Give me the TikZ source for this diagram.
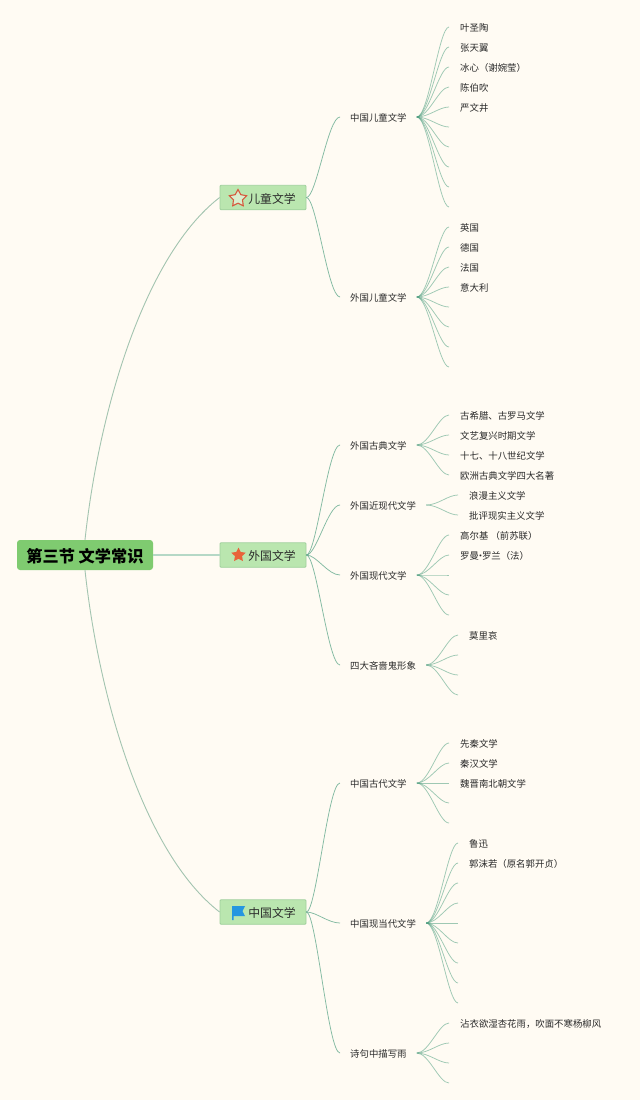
\documentclass[tikz,border=0pt]{standalone}
\usepackage{fontspec}
\setmainfont{Noto Sans CJK SC}
\usetikzlibrary{shapes.geometric}
\definecolor{paper}{HTML}{FFFBF3}
\definecolor{rootfill}{HTML}{7FCB70}
\definecolor{branchfill}{HTML}{BAE6AF}
\definecolor{branchedge}{HTML}{9FD09C}
\definecolor{linkgreen}{HTML}{4F9F80}
\definecolor{mainlink}{HTML}{A3C4B0}
\definecolor{midlink}{HTML}{B5D8C6}
\definecolor{inktext}{HTML}{2A2A2A}
\definecolor{starred}{HTML}{D65A3E}
\definecolor{starorange}{HTML}{E8633A}
\definecolor{flagblue}{HTML}{2596E0}
\tikzset{
  x=1pt,y=-1pt,
  rootbox/.style={draw=none,fill=rootfill,rounded corners=3pt,minimum width=136pt,minimum height=30pt,inner sep=0pt,text height=15pt,text depth=1pt,font=\fontsize{16.2pt}{18pt}\selectfont\bfseries,text=black},
  branchbox/.style={draw=branchedge,line width=.8pt,fill=branchfill,rounded corners=1pt,minimum width=86pt,minimum height=24.5pt,inner sep=0pt,text height=11.5pt,text depth=.5pt,font=\fontsize{11.8pt}{14pt}\selectfont,text=inktext},
  subtext/.style={anchor=west,inner ysep=0pt,inner xsep=10pt,text height=9pt,text depth=0pt,font=\fontsize{9.4pt}{11pt}\selectfont,text=inktext},
  leaftext/.style={anchor=west,inner ysep=0pt,inner xsep=11pt,text height=9pt,text depth=0pt,font=\fontsize{9.4pt}{11pt}\selectfont,text=inktext},
  leafline/.style={draw=linkgreen,line width=.75pt,opacity=.55},
  leafcurve/.style={out=0,in=180,out distance=12pt,in distance=10pt},
  subcurve/.style={out=0,in=180,out distance=10pt,in distance=12pt},
  mainline/.style={draw=mainlink,line width=.9pt},
}
\newcommand\fanT[3]{\foreach \y/\t in {#3}{\node[leaftext] (#1-\y) at (#2,\y) {\t};\draw[leafline] (#1.east) to[leafcurve] (#1-\y.west);}}
\newcommand\fanE[3]{\foreach \y in {#3}{\coordinate (#1-\y) at (#2,\y);\draw[leafline] (#1.east) to[leafcurve] (#1-\y);}}
\begin{document}
\begin{tikzpicture}
\fill[paper] (0,0) rectangle (640,1100);
\useasboundingbox (0,0) rectangle (640,1100);
% centre and branches
\node[rootbox] (root) at (85,555) {第三节 文学常识};
\node[branchbox] (kid) at (263,197.5) {\hspace*{18pt}儿童文学};
\node[branchbox] (fore) at (263,555) {\hspace*{18pt}外国文学};
\node[branchbox] (chin) at (263,912) {\hspace*{18pt}中国文学};
\draw[mainline] (root.north) .. controls +(14,-130) and +(-75,58) .. (kid.west);
\draw[mainline] (root.south) .. controls +(14,130) and +(-75,-58) .. (chin.west);
\draw[midlink,line width=1.3pt] (root.east) -- (fore.west);
% icons
\node[star,star points=5,star point ratio=1.9,draw=starred,fill=branchfill!55!paper,line width=1.1pt,minimum size=18pt,inner sep=0pt] (ico1) at (238,198.5) {};
\node[star,star points=5,star point ratio=2,fill=starorange,minimum size=15pt,inner sep=0pt] (ico2) at (238.5,555) {};
\fill[flagblue] (232,906) -- (245,906) -- (242.5,911) -- (245,916) -- (233.5,916) -- (233.5,920) -- (232,920) -- cycle;
% sub-topics
\foreach \n/\x/\y/\t in {
  a1/340/117/中国儿童文学,a2/340/297/外国儿童文学,
  b1/340/445/外国古典文学,b2/340/505/外国近现代文学,b3/340/575/外国现代文学,b4/340/665/四大吝啬鬼形象,
  c1/340/783/中国古代文学,c2/340/923/中国现当代文学,c3/340/1053/诗句中描写雨}{
  \node[subtext] (\n) at (\x,\y) {\t};
}
\foreach \p/\n in {kid/a1,kid/a2,fore/b1,fore/b2,fore/b3,fore/b4,chin/c1,chin/c2,chin/c3}{
  \draw[leafline,opacity=.7] (\p.east) to[subcurve] (\n.west);
}
% leaves
\fanT{a1}{449}{27/叶圣陶,47/张天翼,67/冰心（谢婉莹）,87/陈伯吹,107/严文井}
\fanE{a1}{449}{127,147,167,187,207}
\fanT{a2}{449}{227/英国,247/德国,267/法国,287/意大利}
\fanE{a2}{449}{307,327,347,367}
\fanT{b1}{449}{415/古希腊、古罗马文学,435/文艺复兴时期文学,455/十七、十八世纪文学,475/欧洲古典文学四大名著}
\fanT{b2}{458}{495/浪漫主义文学,515/批评现实主义文学}
\fanT{b3}{449}{535/高尔基 （前苏联）,555/罗曼\makebox[3pt]{·}罗兰（法）}
\fanE{b3}{449}{575,595,615}
\fanT{b4}{458}{635/莫里哀}
\fanE{b4}{458}{655,675,695}
\fanT{c1}{449}{743/先秦文学,763/秦汉文学,783/魏晋南北朝文学}
\fanE{c1}{449}{803,823}
\fanT{c2}{458}{843/鲁迅,863/郭沫若（原名郭开贞）}
\fanE{c2}{458}{883,903,923,943,963,983,1003}
\fanT{c3}{449}{1023/沾衣欲湿杏花雨，吹面不寒杨柳风}
\fanE{c3}{449}{1043,1063,1083}
\end{tikzpicture}
\end{document}
